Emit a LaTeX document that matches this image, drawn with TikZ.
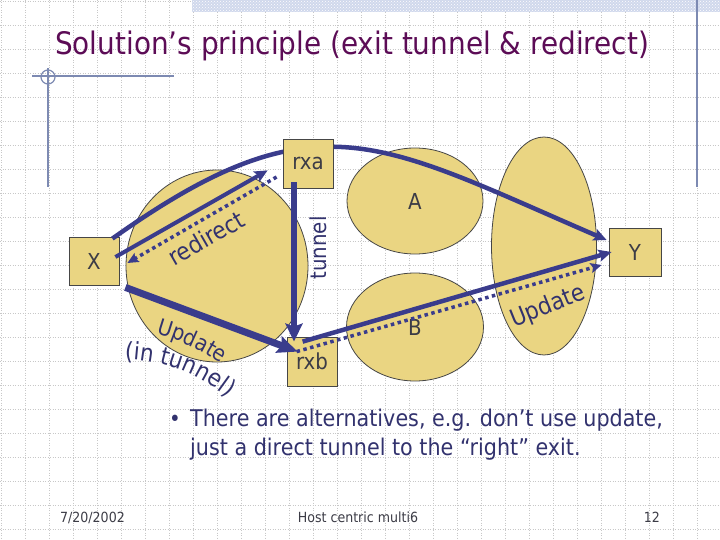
\documentclass[tikz,border=0pt]{standalone}
\usepackage{fontspec}
\newfontfamily\tah[FakeStretch=0.9]{DejaVu Sans}
\usetikzlibrary{arrows.meta,shapes.geometric,calc,decorations.text,patterns}
\definecolor{tanfill}{RGB}{234,213,130}
\definecolor{boxline}{RGB}{70,70,70}
\definecolor{navyarrow}{RGB}{58,60,140}
\definecolor{navytext}{RGB}{50,50,110}
\definecolor{labgray}{RGB}{60,60,70}
\definecolor{titlepurple}{RGB}{92,12,86}
\definecolor{decoline}{RGB}{125,138,178}
\definecolor{bandblue}{RGB}{208,216,236}
\definecolor{gridgray}{RGB}{200,200,200}
\begin{document}
\begin{tikzpicture}[x=1pt,y=1pt,
  gridline/.style={draw=gridgray,line width=0.8pt,dash pattern=on 1pt off 1.5pt},
  deco/.style={draw=decoline,line width=1.2pt},
  ell/.style={ellipse,draw=boxline,fill=tanfill,line width=0.8pt,inner sep=0pt,font=\tah\fontsize{22}{24}\selectfont,text=labgray},
  box/.style={rectangle,draw=boxline,fill=tanfill,line width=0.8pt,inner sep=0pt,minimum width=50pt,minimum height=48pt,font=\tah\fontsize{22}{24}\selectfont,text=labgray},
  solidarrow/.style={draw=navyarrow,line width=#1,-{Stealth[length=13pt,width=12pt,inset=2.5pt]}},
  dotarrow/.style={draw=navyarrow,line width=3.5pt,dash pattern=on 3.5pt off 3.5pt,-{Stealth[length=11pt,width=10pt,inset=2pt]}},
  lbl/.style={text=navytext,font=\tah\fontsize{#1}{#1}\selectfont,inner sep=0pt}
]
% page
\fill[white] (0,0) rectangle (720,-540);
\useasboundingbox (0,0) rectangle (720,-540);
% grid
\foreach \i in {0,...,29} \draw[gridline] (1+24*\i,0) -- (1+24*\i,-540);
\foreach \j in {0,...,22} \draw[gridline] (0,-1-24*\j) -- (720,-1-24*\j);
% decorations
\fill[bandblue] (192,0) rectangle (720,-12);
\fill[pattern=crosshatch dots,pattern color=white] (192,0) rectangle (720,-12);
\draw[deco] (697,0) -- (697,-187);
\draw[deco] (32,-76) -- (174,-76);
\draw[deco] (48,-68) -- (48,-187);
\draw[deco] (48,-77) circle (7);
% title
\node[anchor=base west,inner sep=0pt,text=titlepurple,font=\tah\fontsize{31}{31}\selectfont] (title) at (55,-55) {Solution’s principle (exit tunnel \& redirect)};
% regions
\node[ell,minimum width=182pt,minimum height=192pt] (C) at (217,-266) {};
\node[ell,minimum width=136pt,minimum height=106pt] (A) at (415,-201) {A};
\node[ell,minimum width=137pt,minimum height=108pt] (B) at (415,-327) {B};
\node[ell,minimum width=105pt,minimum height=218pt] (T) at (544,-246) {};
% hosts
\node[box] (X) at (94,-261) {X};
\node[box,minimum width=52pt] (Y) at (635,-252) {Y};
% big curve X -> Y (behind rxa)
\draw[solidarrow=4.5pt] ($(X.north east)+(-7,-2)$) .. controls (316,-94) and (377,-141) .. ($(Y.west)+(-2,12)$);
% routers
\node[box,minimum height=49pt] (rxa) at (308,-163.5) {rxa};
\node[box,minimum height=49pt] (rxb) at (312,-361.5) {rxb};
% arrows
\draw[solidarrow=4pt] ($(X.east)+(-4,4)$) -- ($(rxa.south west)+(-15,18)$);
\draw[dotarrow] ($(rxa.west)+(-6,-13.5)$) -- ($(X.east)+(8,-2)$);
\draw[draw=navyarrow,line width=6pt,-{Stealth[length=18pt,width=17pt,inset=3pt]}] ($(rxa.south)+(-14,6)$) -- ($(rxb.north)+(-18,-5)$);
\draw[draw=navyarrow,line width=7pt,-{Stealth[length=20pt,width=17pt,inset=3pt]}] ($(X.south east)+(6,-2)$) -- ($(rxb.north west)+(11,-15)$);
\draw[solidarrow=4.5pt] ($(rxb.north west)+(16,-5)$) -- ($(Y.west)+(3,0)$);
\draw[dotarrow] ($(rxb.north west)+(10,-15)$) -- ($(Y.west)+(-7,-13)$);
% labels
\node[lbl=24,rotate=30] (redirect) at (206,-238) {redirect};
\node[lbl=22,rotate=90] (tunnel) at (318,-248) {tunnel};
\node[lbl=24,rotate=22] (upd2) at (548,-307) {Update};
\path[decorate,decoration={text along path,text align=center,text={|\tah\fontsize{22}{22}\selectfont\color{navytext}|Update}}] (147,-331) to[bend left=10] (229,-369);
\path[decorate,decoration={text along path,text align=center,text={|\tah\fontsize{24}{24}\selectfont\color{navytext}|(in tunnel)}}] (106,-359) to[bend left=22] (242,-410);
% body text
\node[anchor=base west,inner sep=0pt,text=navytext,font=\tah\fontsize{22}{22}\selectfont] (bullet) at (169,-426) {•};
\node[anchor=base west,inner sep=0pt,text=navytext,font=\tah\fontsize{23}{23}\selectfont] (line1) at (190,-426) {There are alternatives, e.g. don’t use update,};
\node[anchor=base west,inner sep=0pt,text=navytext,font=\tah\fontsize{23}{23}\selectfont] (line2) at (190,-455) {just a direct tunnel to the “right” exit.};
% footer
\node[anchor=base west,inner sep=0pt,text=labgray,font=\tah\fontsize{14}{14}\selectfont] (date) at (60,-522) {7/20/2002};
\node[anchor=base,inner sep=0pt,text=labgray,font=\tah\fontsize{14}{14}\selectfont] (foot) at (358,-522) {Host centric multi6};
\node[anchor=base east,inner sep=0pt,text=labgray,font=\tah\fontsize{14}{14}\selectfont] (page) at (660,-522) {12};
\end{tikzpicture}
\end{document}
